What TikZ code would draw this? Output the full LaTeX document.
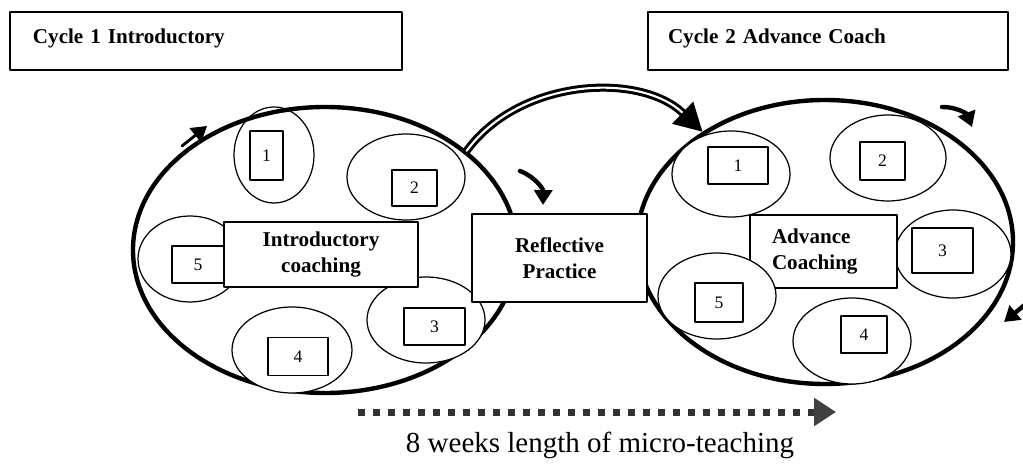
\documentclass[tikz,border=0pt]{standalone}
\usepackage{fontspec}
\setmainfont{Liberation Serif}
\usetikzlibrary{shapes.geometric,arrows.meta}

\tikzset{
  ring/.style={ellipse,draw,line width=2.5pt,inner sep=0pt},
  bubble/.style={ellipse,draw,fill=white,line width=0.7pt,inner sep=0pt},
  numbox/.style={draw,fill=white,line width=0.8pt,inner sep=0pt,font=\fontsize{10}{11}\selectfont},
  stagebox/.style={draw,fill=white,line width=0.8pt,inner sep=0pt,align=center,font=\bfseries\fontsize{12}{15}\selectfont},
  titlebox/.style={draw,line width=0.8pt,inner sep=0pt,align=left,text height=3mm,text depth=1.8mm,font=\bfseries\fontsize{12}{13}\selectfont},
  turn/.style={line width=2.5pt,-{Triangle[length=3mm,width=3.6mm]}},
}

\begin{document}
\begin{tikzpicture}[x=0.2mm,y=-0.2mm,line cap=round,line join=round]
\useasboundingbox (0,0) rectangle (1023,467);

% titles
\node[titlebox,minimum width=78.4mm,minimum height=11.6mm,text width=69.2mm,inner xsep=4.6mm] (titleA) at (206,41) {Cycle 1 Introductory};
\node[titlebox,minimum width=72mm,minimum height=11.6mm,text width=64mm,inner xsep=4mm] (titleB) at (828,41) {Cycle 2 Advance Coach};

% first bubble sits under the ring
\node[bubble,minimum width=16mm,minimum height=19.2mm] (e1) at (274,155) {};
\node[numbox,minimum width=6.6mm,minimum height=9.8mm] (b1) at (266.5,155.5) {1};

%%%%%%%%%%%%%%%% RINGS %%%%%%%%%%%%%%%%
\node[ring,minimum width=76.8mm,minimum height=57.2mm] (ringA) at (325,250) {};
\node[ring,minimum width=75.2mm,minimum height=56.8mm] (ringB) at (825,242) {};

%%%%%%%%%%%%%%%% CYCLE 1 %%%%%%%%%%%%%%%%
\node[bubble,minimum width=23.6mm,minimum height=17.2mm] (e2) at (406,177) {};
\node[bubble,minimum width=23.6mm,minimum height=17.2mm] (e3) at (426,320) {};
\node[bubble,minimum width=24mm,minimum height=17.2mm] (e4) at (292,350) {};
\node[bubble,minimum width=20.8mm,minimum height=17.2mm] (e5) at (190,259) {};
\node[numbox,minimum width=9mm,minimum height=7.2mm] (b2) at (414.5,188) {2};
\node[numbox,minimum width=12.2mm,minimum height=7.4mm] (b3) at (434.5,326.5) {3};
\node[numbox,minimum width=12mm,minimum height=7.6mm] (b4) at (298,356.5) {4};
\node[numbox,minimum width=10.4mm,minimum height=7.4mm] (b5) at (198,264.5) {5};
\node[stagebox,minimum width=38.8mm,minimum height=13mm] (intro) at (321,254.5) {Introductory\\coaching};

%%%%%%%%%%%%%%%% CYCLE 2 %%%%%%%%%%%%%%%%
\node[bubble,minimum width=23.6mm,minimum height=17.2mm] (f1) at (731,174) {};
\node[bubble,minimum width=23.2mm,minimum height=17.2mm] (f2) at (888,158) {};
\node[bubble,minimum width=23.2mm,minimum height=17.6mm] (f3) at (953,254) {};
\node[bubble,minimum width=23.6mm,minimum height=17.2mm] (f4) at (852,341) {};
\node[numbox,minimum width=12mm,minimum height=7.4mm] (c1) at (738,165.5) {1};
\node[numbox,minimum width=9mm,minimum height=7.6mm] (c2) at (882.5,161) {2};
\node[numbox,minimum width=12.2mm,minimum height=9mm] (c3) at (942.5,250.5) {3};
\node[numbox,minimum width=9.2mm,minimum height=7.4mm] (c4) at (864,334.5) {4};
\node[stagebox,minimum width=29.4mm,minimum height=14.6mm,text width=20.6mm,inner xsep=4.4mm,align=left] (advance) at (823.5,251.5) {Advance\\Coaching};
\node[bubble,minimum width=23.6mm,minimum height=17.2mm] (f5) at (717,296) {};
\node[numbox,minimum width=9.6mm,minimum height=7.8mm] (c5) at (719,302.5) {5};

% between the cycles
\node[stagebox,minimum width=35mm,minimum height=17.6mm] (reflect) at (559.5,258) {Reflective\\Practice};

\draw[line width=1.7pt,double,double distance=1.2pt,-{Triangle[length=5.5mm,width=6mm]}]
  (ringA.35) .. controls (520,78) and (640,72) .. (ringB.138);

% turning arrows
\coordinate (tA) at (520,171); \coordinate (hA) at (543,205);
\coordinate (tB) at (942,107); \coordinate (hB) at (972,127);
\coordinate (tC) at (1027,303); \coordinate (hC) at (1004,322);
\coordinate (tD) at (182,146); \coordinate (hD) at (207,126);
\draw[turn] (tA) to[bend left=35] (hA);
\draw[turn] (tB) to[bend left=35] (hB);
\draw[turn] (tC) -- (hC);
\draw[turn,line width=1.6pt] (tD) -- (hD);

% time line
\coordinate (tl0) at (358,412); \coordinate (tl1) at (836,412);
\draw[draw=black!80,line width=1.4mm,line cap=butt,dash pattern=on 1.4mm off 1.6mm,
  -{Triangle[length=4.4mm,width=5.4mm,color=black!75,fill=black!75]}] (tl0) -- (tl1);
\node[font=\fontsize{16.5}{18}\selectfont] (weeks) at (600,445) {8 weeks length of micro-teaching};

\end{tikzpicture}
\end{document}
